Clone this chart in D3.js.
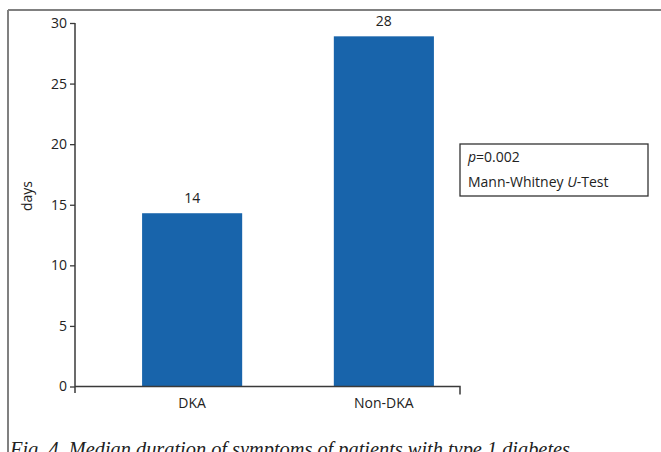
<!DOCTYPE html>
<html><head><meta charset="utf-8">
<script src="https://cdn.jsdelivr.net/npm/d3@7"></script>
<style>body{margin:0;background:#fff}svg{display:block}</style>
</head><body>
<svg id="c" width="661" height="452"></svg>
<script>
const categories = ["DKA", "Non-DKA"];
const values = [14.3, 28.9];
const valueLabels = ["14", "28"];
const yTicks = [0, 5, 10, 15, 20, 25, 30];
const yLabel = "days";
const statLines = ["=0.002", "Mann-Whitney U-Test"];
const caption = "Fig. 4. Median duration of symptoms of patients with type 1 diabetes";

const svg = d3.select("#c");
const font = "'Open Sans', 'Noto Sans', sans-serif";
const axisColor = "#3a3a3a";

// frame
svg.append("line").attr("x1", 8).attr("x2", 8).attr("y1", 10).attr("y2", 452)
  .attr("stroke", "#808080").attr("stroke-width", 2);
svg.append("line").attr("x1", 8).attr("x2", 661).attr("y1", 10).attr("y2", 10)
  .attr("stroke", "#808080").attr("stroke-width", 2);

const y = d3.scaleLinear().domain([0, 30]).range([386.5, 23]);
const x = d3.scaleBand().domain(categories).range([75, 460])
  .paddingInner(0.478).paddingOuter(0.243).align(0.72);

// bars
svg.selectAll("rect.bar").data(values).join("rect")
  .attr("class", "bar")
  .attr("x", (d, i) => x(categories[i]))
  .attr("width", x.bandwidth())
  .attr("y", d => y(d))
  .attr("height", d => y(0) - y(d))
  .attr("fill", "#1864ab");

// value labels
svg.selectAll("text.vl").data(values).join("text")
  .attr("class", "vl")
  .attr("x", (d, i) => x(categories[i]) + x.bandwidth() / 2)
  .attr("y", d => y(d) - 10)
  .attr("text-anchor", "middle")
  .attr("font-family", font).attr("font-size", 14).attr("fill", "#222")
  .text((d, i) => valueLabels[i]);

// y axis
const yAxis = svg.append("g").attr("transform", "translate(75,0)")
  .call(d3.axisLeft(y).tickValues(yTicks).tickSize(5).tickSizeOuter(0).tickPadding(3));
yAxis.select(".domain").remove();
yAxis.selectAll(".tick line").attr("stroke", axisColor).attr("stroke-width", 1.3);
yAxis.selectAll(".tick text").attr("font-family", font).attr("font-size", 14).attr("fill", "#222");
svg.append("line").attr("x1", 75).attr("x2", 75).attr("y1", y(30)).attr("y2", 393)
  .attr("stroke", axisColor).attr("stroke-width", 1.5);

// x axis
svg.append("path").attr("d", `M75,${y(0)}H460V${y(0) + 8}`)
  .attr("fill", "none").attr("stroke", axisColor).attr("stroke-width", 1.5);
svg.selectAll("text.cat").data(categories).join("text")
  .attr("class", "cat")
  .attr("x", d => x(d) + x.bandwidth() / 2)
  .attr("y", 408)
  .attr("text-anchor", "middle")
  .attr("font-family", font).attr("font-size", 14).attr("fill", "#222")
  .text(d => d);

// y label
svg.append("text").attr("transform", "translate(32,196) rotate(-90)")
  .attr("text-anchor", "middle").attr("font-family", font).attr("font-size", 14)
  .attr("fill", "#222").text(yLabel);

// stats box
svg.append("rect").attr("x", 460).attr("y", 144).attr("width", 188).attr("height", 52)
  .attr("fill", "#fff").attr("stroke", "#333").attr("stroke-width", 1.3);
const t1 = svg.append("text").attr("x", 468).attr("y", 162)
  .attr("font-family", font).attr("font-size", 14).attr("fill", "#222");
t1.append("tspan").attr("font-style", "italic").text("p");
t1.append("tspan").text(statLines[0]);
const t2 = svg.append("text").attr("x", 468).attr("y", 187)
  .attr("font-family", font).attr("font-size", 14).attr("fill", "#222");
t2.append("tspan").text("Mann-Whitney ");
t2.append("tspan").attr("font-style", "italic").text("U");
t2.append("tspan").text("-Test");

// caption
svg.append("text").attr("x", 10).attr("y", 456)
  .attr("font-family", "'Liberation Serif', 'DejaVu Serif', serif")
  .attr("font-style", "italic").attr("font-size", 20).attr("fill", "#222")
  .attr("textLength", 560).attr("lengthAdjust", "spacingAndGlyphs")
  .text(caption);
</script>
</body></html>
